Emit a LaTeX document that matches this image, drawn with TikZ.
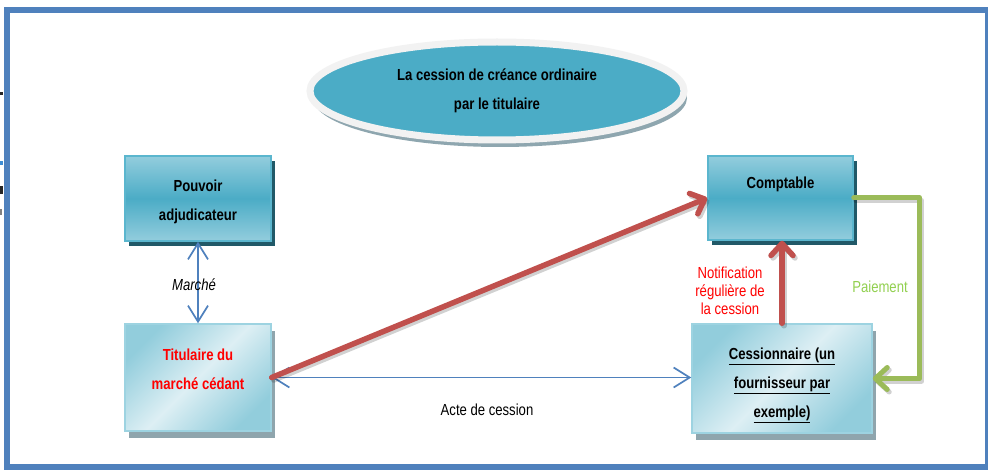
\documentclass[tikz,border=0pt]{standalone}
\usepackage{fontspec}
\setmainfont{Liberation Sans}[FakeStretch=0.82]
\usetikzlibrary{arrows.meta,shapes.geometric,shadows,calc}

\definecolor{frameblue}{HTML}{4F81BD}
\definecolor{tealmid}{HTML}{4BACC6}
\definecolor{teallight}{HTML}{93CDDD}
\definecolor{tealedge}{HTML}{5BB6CE}
\definecolor{tealshadow}{HTML}{215968}
\definecolor{paledark}{HTML}{92CDDC}
\definecolor{palelight}{HTML}{DDEFF4}
\definecolor{paleedge}{HTML}{9DD3E1}
\definecolor{paleshadow}{HTML}{8FA5AD}
\definecolor{rimgray}{HTML}{F2F2F2}
\definecolor{ellshadow}{HTML}{8EA6AF}
\definecolor{arrowred}{HTML}{C0504D}
\definecolor{arrowgreen}{HTML}{9BBB59}
\definecolor{textgreen}{HTML}{92D050}
\definecolor{textred}{HTML}{FF0000}

\begin{document}
\begin{tikzpicture}[x=1pt,y=-1pt,
  darkbox/.style={rectangle, inner sep=0pt, draw=tealedge, line width=1.5pt,
    top color=teallight, bottom color=teallight, middle color=tealmid},
  lightbox/.style={rectangle, inner sep=0pt, draw=paleedge, line width=1.5pt,
    top color=paledark, bottom color=paledark, middle color=palelight,
    shading angle=45},
  boxshadow/.style={rectangle, inner sep=0pt, draw=none},
  titleoval/.style={ellipse, inner sep=0pt, minimum width=374pt, minimum height=98pt,
    fill=tealmid, draw=rimgray, line width=7pt,
    general shadow={fill=ellshadow, shadow xshift=3pt, shadow yshift=-7pt},
    align=center, font=\bfseries\fontsize{16}{29}\selectfont},
  boxtext/.style={inner sep=0pt, align=center, font=\bfseries\fontsize{16}{29}\selectfont},
  plaintext/.style={inner sep=0pt, align=center, font=\fontsize{16}{18}\selectfont},
  bluelink/.style={draw=frameblue, line width=1.7pt,
    {Straight Barb[length=16pt,width=20pt]}-{Straight Barb[length=16pt,width=20pt]}},
  redlink/.style={draw=arrowred, line width=5.5pt, line cap=round,
    -{Straight Barb[length=12pt,width=22pt,round]}},
  greenlink/.style={draw=arrowgreen, line width=5pt, line cap=round, line join=round,
    -{Straight Barb[length=12pt,width=22pt,round]}},
  linkshadow/.style={draw=black, opacity=0.18, transform canvas={shift={(2pt,-2.5pt)}}}
]
\useasboundingbox (0,0) rectangle (988,473);
\fill[white] (0,0) rectangle (988,473);

% small marks along the left edge
\fill[black!85] (0,92) rectangle (3,95);
\fill[cyan!60!blue!80] (0,161) rectangle (3,165);
\fill[black!85] (0,186) rectangle (3,194);
\fill[black!50] (0,209) rectangle (2,215);

% outer frame
\draw[frameblue, line width=6pt] (7,10) rectangle (988,467);

% title oval
\node[titleoval] (titre) at (497,91) {La cession de créance ordinaire\\par le titulaire};

% offset shadows, drawn first so the boxes cover them
\node[boxshadow, fill=tealshadow, minimum width=146pt, minimum height=85pt] (pa-s) at (202,203.5) {};
\node[boxshadow, fill=tealshadow, minimum width=145pt, minimum height=84pt] (cpt-s) at (784.5,203) {};
\node[boxshadow, fill=paleshadow, minimum width=146pt, minimum height=107pt] (tit-s) at (202,384.5) {};
\node[boxshadow, fill=paleshadow, minimum width=180pt, minimum height=109pt] (ces-s) at (786,385.5) {};

% boxes
\node[darkbox, minimum width=146pt, minimum height=85pt] (pa) at (198,198.5) {};
\node[darkbox, minimum width=145pt, minimum height=84pt] (cpt) at (780.5,198) {};
\node[lightbox, minimum width=146pt, minimum height=107pt] (tit) at (198,377.5) {};
\node[lightbox, minimum width=180pt, minimum height=109pt] (ces) at (782,378.5) {};

% box captions
\node[boxtext] (pa-t) at (198,202) {Pouvoir\\adjudicateur};
\node[boxtext] (cpt-t) at (780.5,184.5) {Comptable};
\node[boxtext, text=textred] (tit-t) at (198,369) {Titulaire du\\marché cédant};
\node[boxtext] (ces-t) at (782,385) {\underline{Cessionnaire (un}\\\underline{fournisseur par}\\\underline{exemple)}};

% connectors
\draw[bluelink] (pa.south) -- (tit.north);
\draw[bluelink] (tit.east) -- (tit.east -| ces.west);

\draw[redlink, linkshadow] (tit.east) -- (cpt.west);
\draw[redlink] (tit.east) -- (cpt.west);
\draw[redlink, linkshadow] (ces.north) -- (ces.north |- cpt.south);
\draw[redlink] (ces.north) -- (ces.north |- cpt.south);

\draw[greenlink, linkshadow] (cpt.east) -- ++(66,0) |- (ces.east);
\draw[greenlink] (cpt.east) -- ++(66,0) |- (ces.east);

% connector labels
\node[plaintext, font=\itshape\fontsize{16}{18}\selectfont] (marche) at (194,285) {Marché};
\node[plaintext] (acte) at (487,410) {Acte de cession};
\node[plaintext, text=textred] (notif) at (730,291) {Notification\\régulière de\\la cession};
\node[plaintext, text=textgreen] (paie) at (880,287) {Paiement};
\end{tikzpicture}
\end{document}
